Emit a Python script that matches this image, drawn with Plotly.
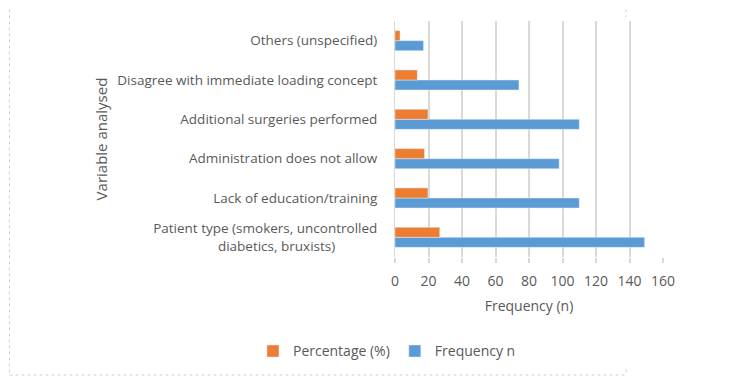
import plotly.graph_objects as go

NB = "\u00a0"
categories = [
    "Patient type (smokers, uncontrolled<br>diabetics, bruxists)" + NB * 12,
    "Lack of education/training",
    "Administration does not allow",
    "Additional surgeries performed",
    "Disagree with immediate loading concept",
    "Others (unspecified)",
]
frequency_n = [149, 110, 98, 110, 74, 17]
percentage = [26.7, 19.7, 17.6, 19.7, 13.3, 3.0]
x_ticks = [0, 20, 40, 60, 80, 100, 120, 140, 160]

GREY = "#595959"
BORDER = "#d0d0d0"
font = dict(family="Open Sans, Liberation Sans, sans-serif", size=14, color=GREY)

fig = go.Figure()
fig.add_trace(go.Bar(
    y=categories, x=frequency_n, orientation="h", name="Frequency n",
    marker=dict(color="#5B9BD5"), legendrank=2,
))
fig.add_trace(go.Bar(
    y=categories, x=percentage, orientation="h", name="Percentage (%)",
    marker=dict(color="#ED7D31"), legendrank=1,
))

def dotted(x0, y0, x1, y1):
    return dict(type="line", xref="paper", yref="paper", x0=x0, y0=y0, x1=x1, y1=y1,
                line=dict(color=BORDER, width=1, dash="dot"), layer="below")

XL = (9.5 - 395) / 268
fig.update_layout(
    width=750, height=377,
    margin=dict(l=387, r=95, t=13, b=128, autoexpand=False),
    paper_bgcolor="white", plot_bgcolor="white",
    barmode="group", bargap=0.49, bargroupgap=0,
    font=font,
    showlegend=True,
    legend=dict(orientation="h", x=-0.03, xanchor="center", y=-0.40, yanchor="middle",
                font=dict(size=14, color=GREY), itemwidth=30, tracegroupgap=0),
    xaxis=dict(range=[0, 160], tickvals=x_ticks, showgrid=True, gridcolor="#d9d9d9",
               gridwidth=1.5, zeroline=False, showline=False, automargin=False,
               ticks="outside", ticklen=5, tickcolor="#d9d9d9", tickwidth=1.5,
               ticklabelstandoff=6,
               tickfont=dict(size=14, color=GREY),
               title=dict(text="Frequency (n)", font=dict(size=14, color=GREY), standoff=12)),
    yaxis=dict(showline=True, linecolor="#d9d9d9", linewidth=1, ticks="", automargin=False,
               tickfont=dict(size=13.5, color=GREY), ticklabelstandoff=14,
               title=dict(text="Variable analysed", font=dict(size=15, color=GREY), standoff=6)),
    shapes=[
        dotted(XL, 1.1, XL, -0.5),
        dotted(XL, -0.5, 0.862, -0.5),
        dotted(0.862, 1.1, 0.862, 1.017),
        dotted(0.862, -0.475, 0.862, -0.5),
    ],
)

fig.write_html("out.html")
